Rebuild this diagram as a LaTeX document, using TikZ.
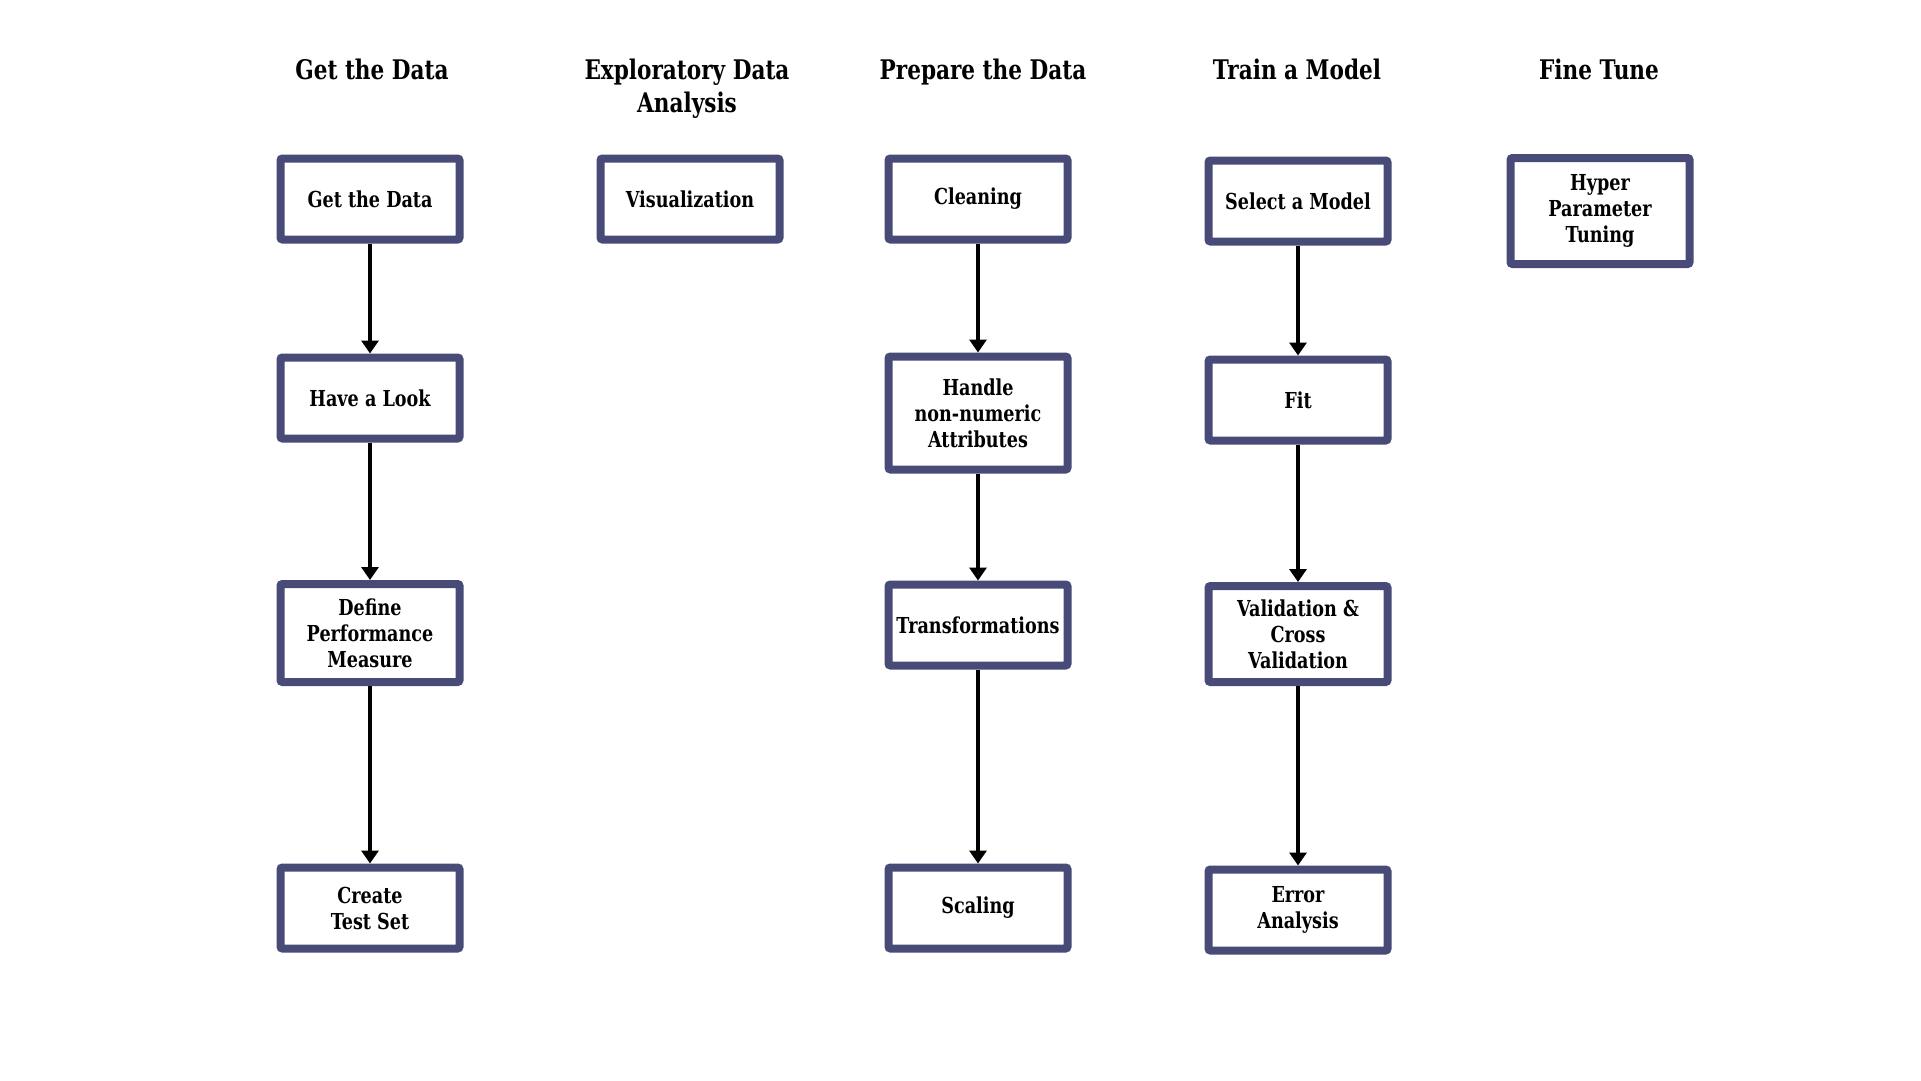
\documentclass[tikz,border=0pt]{standalone}
\usepackage{fontspec}
\setmainfont{DejaVu Serif}[FakeStretch=0.8]
\usetikzlibrary{arrows.meta}
\definecolor{boxline}{RGB}{72,74,120}

\begin{document}
\begin{tikzpicture}[x=1pt,y=-1pt]
        \useasboundingbox (0,0) rectangle (1921,1080);
        % column headings
        \begin{scope}[every node/.style={font=\bfseries\fontsize{27}{33}\selectfont, align=center, anchor=north, inner sep=0}]
                \node (H1) at (372,59) {Get the Data};
                \node (H2) at (687,59) {Exploratory Data\\Analysis};
                \node (H3) at (983,59) {Prepare the Data};
                \node (H4) at (1297,59) {Train a Model};
                \node (H5) at (1599,59) {Fine Tune};
        \end{scope}
        % boxes
        \begin{scope}[every node/.style={draw=boxline, line width=8pt, rounded corners=2pt, fill=white, minimum width=179pt, minimum height=81pt, align=center, inner sep=2pt, font=\bfseries\fontsize{22}{26}\selectfont}]
                \node (GD) at (370,199) {Get the Data};
                \node (HL) at (370,398) {Have a Look};
                \node[minimum height=98pt] (DP) at (370,633) {Define\\Performance\\Measure};
                \node (CT) at (370,908) {Create\\Test Set};
                \node (VZ) at (690,199) {Visualization};
                \node (CL) at (978,199) {Cleaning};
                \node[minimum height=113pt] (HN) at (978,413) {Handle\\non-numeric\\Attributes};
                \node (TR) at (978,625) {Transformations};
                \node (SC) at (978,908) {Scaling};
                \node (SM) at (1298,201) {Select a Model};
                \node (FT) at (1298,400) {Fit};
                \node[minimum height=96pt] (VC) at (1298,634) {Validation \&\\Cross\\Validation};
                \node (EA) at (1298,910) {Error\\Analysis};
                \node[minimum height=106pt] (HP) at (1600,211) {Hyper\\Parameter\\Tuning};
        \end{scope}
        % arrows
        \begin{scope}[every path/.style={line width=4pt, -{Triangle[length=13pt,width=17pt]}}]
                \path (GD) edge (HL);
                \path (HL) edge (DP);
                \path (DP) edge (CT);
                \path (CL) edge (HN);
                \path (HN) edge (TR);
                \path (TR) edge (SC);
                \path (SM) edge (FT);
                \path (FT) edge (VC);
                \path (VC) edge (EA);
        \end{scope}
\end{tikzpicture}
\end{document}
